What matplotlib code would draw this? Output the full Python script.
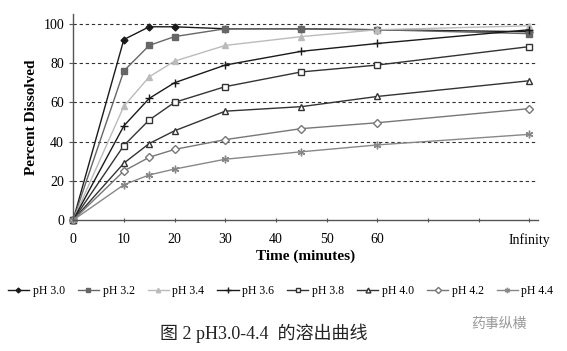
import matplotlib.pyplot as plt
import numpy as np

plt.rcParams['font.family'] = ['Liberation Serif', 'Noto Sans CJK SC']

time_pts = [0, 10, 15, 20, 30, 45, 60, 90]
tick_pos = [0, 10, 20, 30, 40, 50, 60, 70, 80, 90]
tick_labels = ['0', '10', '20', '30', '40', '50', '60', '', '', 'Infinity']

labels = ['pH 3.0', 'pH 3.2', 'pH 3.4', 'pH 3.6', 'pH 3.8', 'pH 4.0', 'pH 4.2', 'pH 4.4']
ph30 = [0, 92, 98.5, 98.5, 97.5, 97.5, 97, 96]
ph32 = [0, 76, 89, 93.5, 97.5, 97.5, 97, 95]
ph34 = [0, 58, 73, 81, 89, 93.5, 97, 99]
ph36 = [0, 48, 62, 70, 79, 86, 90, 97]
ph38 = [0, 38, 51, 60, 68, 75.5, 79, 88.4]
ph40 = [0, 29, 39, 45.5, 55.5, 57.8, 63, 71]
ph42 = [0, 25, 32, 36, 41, 46.6, 49.6, 56.8]
ph44 = [0, 18, 23, 26, 31, 34.8, 38.3, 43.7]
series = [ph30, ph32, ph34, ph36, ph38, ph40, ph42, ph44]

colors = ['#1a1a1a', '#666666', '#bbbbbb', '#1a1a1a', '#333333', '#333333', '#777777', '#888888']
markers = ['D', 's', '^', '+', 's', '^', 'D', (6, 2, 0)]
filled = [True, True, True, True, False, False, False, True]
msizes = [3.5, 4, 4.5, 6, 4.5, 5, 4.5, 5.5]

fig = plt.figure(figsize=(5.67, 3.51), dpi=100)
ax = fig.add_axes([0.129, 0.373, 0.82, 0.587])

for y in [20, 40, 60, 80, 100]:
    ax.axhline(y, color='#333333', lw=0.8, ls=(0, (3, 2.5)), zorder=0)

for vals, lab, c, m, f, ms in zip(series, labels, colors, markers, filled, msizes):
    ax.plot(time_pts, vals, color=c, lw=1.0, marker=m, ms=ms,
            mfc=c if f else 'white', mec=c, mew=1.0, label=lab, clip_on=False)

ax.set_xlim(0, 91.7)
ax.set_ylim(0, 105)
ax.set_xticks(tick_pos)
ax.set_xticklabels(tick_labels)
ax.set_yticks([0, 20, 40, 60, 80, 100])
ax.tick_params(axis='both', labelsize=10, length=3, width=0.8, color='#555555')
ax.tick_params(axis='x', direction='inout', pad=8)
for s in ['top', 'right']:
    ax.spines[s].set_visible(False)
for s in ['left', 'bottom']:
    ax.spines[s].set_color('#555555')
    ax.spines[s].set_linewidth(1.0)

ax.set_xlabel('Time (minutes)', fontsize=11, fontweight='bold', labelpad=2)
ax.set_ylabel('Percent Dissolved', fontsize=11, fontweight='bold', labelpad=4)

fig.legend(loc='center', bbox_to_anchor=(0.495, 0.17), ncol=8, frameon=False,
           fontsize=8.5, handlelength=1.8, handletextpad=0.3, columnspacing=1.1,
           markerscale=0.7)

fig.text(0.465, 0.05, '图 2 pH3.0-4.4  的溶出曲线', fontsize=13, ha='center', va='center',
         color='#222222')
fig.text(0.88, 0.075, '药事纵横', fontsize=10, ha='center', va='center', color='#999999')

fig.savefig('out.png', dpi=100)
